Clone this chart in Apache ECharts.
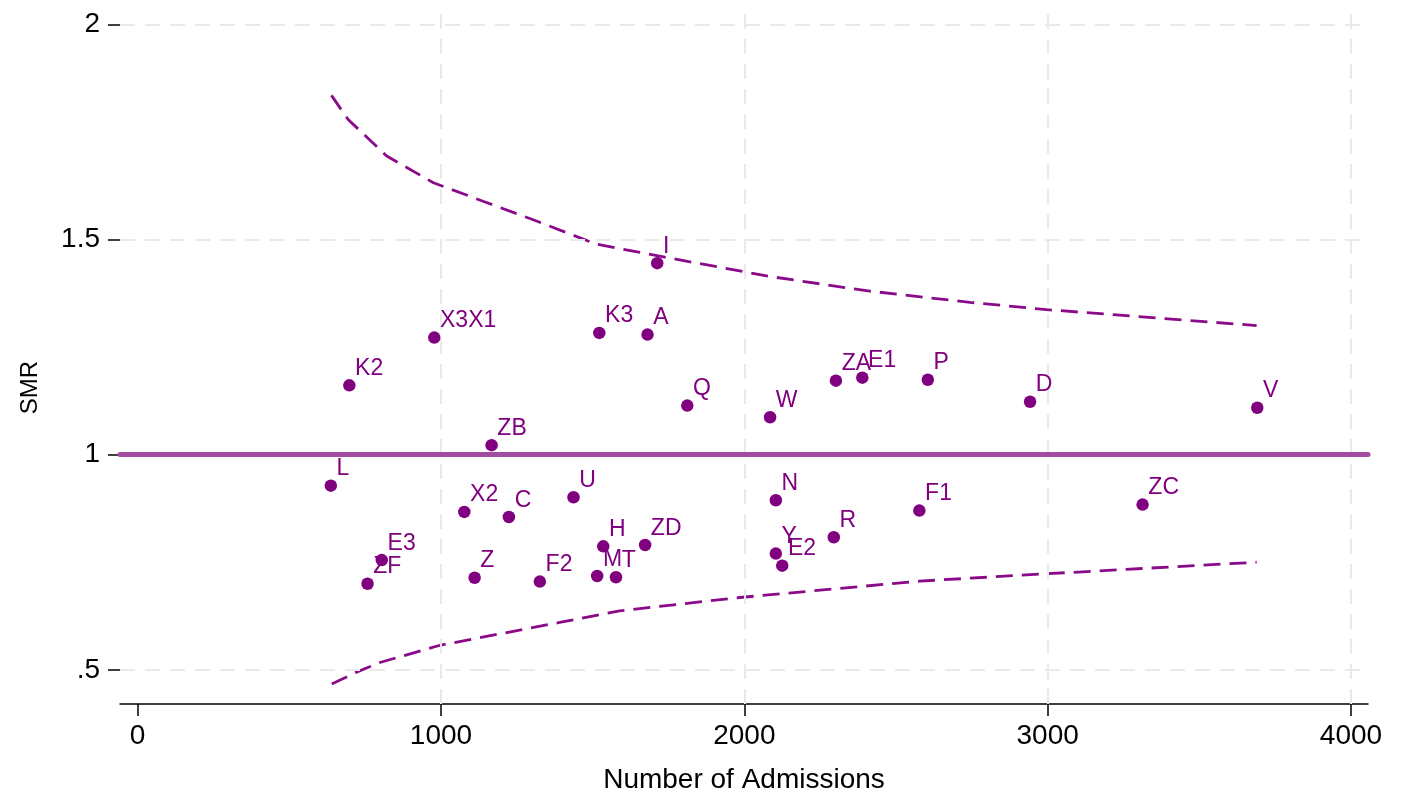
<!DOCTYPE html>
<html>
<head>
<meta charset="utf-8">
<script src="https://cdn.jsdelivr.net/npm/echarts@6/dist/echarts.min.js"></script>
<style>
html,body{margin:0;padding:0;background:#fff;}
#chart{width:1401px;height:799px;}
</style>
</head>
<body>
<div id="chart"></div>
<script>
// Hospitals: names, number of admissions, SMR
const hospitals = ['L','K2','ZF','E3','X3X1','X2','Z','ZB','C','F2','U','M','K3','H','T','ZD','A','I','Q','W','N','Y','E2','R','ZA','E1','F1','P','D','ZC','V'];
const admissions = [637,698,758,805,978,1077,1111,1167,1224,1326,1437,1515,1522,1535,1577,1673,1681,1713,1812,2085,2104,2104,2125,2295,2302,2389,2577,2605,2942,3313,3691];
const smr = [0.928,1.161,0.700,0.755,1.272,0.867,0.714,1.022,0.855,0.705,0.901,0.718,1.283,0.787,0.715,0.790,1.279,1.445,1.114,1.087,0.894,0.770,0.742,0.808,1.172,1.179,0.870,1.174,1.123,0.884,1.109];

// Control limits
const upperX = [639,694,821,975,1150,1315,1513,1738,2085,2414,2744,2997,3689];
const upperY = [1.835,1.779,1.694,1.632,1.586,1.543,1.489,1.459,1.414,1.380,1.354,1.337,1.300];
const lowerX = [640,720,799,997,1391,1589,1985,2577,2992,3689];
const lowerY = [0.467,0.494,0.517,0.557,0.610,0.637,0.668,0.706,0.723,0.750];

const targetSMR = 1;
const xTickValues = [0,1000,2000,3000,4000];
const xTickLabels = ['0','1000','2000','3000','4000'];
const xGridValues = [1000,2000,3000,4000];
const yTickValues = [0.5,1,1.5,2];
const yTickLabels = ['.5','1','1.5','2'];
const yGridValues = [0.5,1.5,2];

const FONT = "'Liberation Sans', Arial, sans-serif";
const PURPLE = '#800080';
const gridLineStyle = {color:'#e9e9e9', width:2, type:[15,10]};

const chart = echarts.init(document.getElementById('chart'), null, {renderer:'canvas'});

const points = hospitals.map((n,i)=>({name:n, value:[admissions[i], smr[i]]}));

chart.setOption({
  animation:false,
  backgroundColor:'#fff',
  grid:{left:120, right:33, top:5, bottom:91, containLabel:false},
  xAxis:{
    type:'value', min:-58, max:4056,
    name:'Number of Admissions', nameLocation:'middle', nameGap:62,
    nameTextStyle:{fontFamily:FONT, fontSize:28, color:'#000'},
    axisLine:{show:true, onZero:false, lineStyle:{color:'#000', width:1.5}},
    axisTick:{show:true, length:12, customValues:xTickValues, lineStyle:{color:'#000', width:1.5}},
    axisLabel:{customValues:xTickValues, margin:18, fontFamily:FONT, fontSize:28, color:'#000',
      formatter:(v)=>{const i=xTickValues.indexOf(v); return i>=0?xTickLabels[i]:'';}},
    splitLine:{show:false}
  },
  yAxis:{
    type:'value', min:0.4205, max:2.045,
    name:'SMR', nameLocation:'middle', nameGap:78, nameRotate:90,
    nameTextStyle:{fontFamily:FONT, fontSize:24, color:'#000', padding:[0,66,0,0]},
    axisLine:{show:false, onZero:false},
    axisTick:{show:true, length:12, customValues:yTickValues, lineStyle:{color:'#000', width:1.5}},
    axisLabel:{customValues:yTickValues, margin:20, fontFamily:FONT, fontSize:28, color:'#000',
      formatter:(v)=>{const i=yTickValues.indexOf(v); return i>=0?yTickLabels[i]:'';}},
    splitLine:{show:false}
  },
  series:[
    {
      type:'line', data:[], silent:true, z:1,
      markLine:{
        silent:true, symbol:'none', animation:false,
        label:{show:false},
        lineStyle:gridLineStyle,
        data: xGridValues.map(v=>({xAxis:v})).concat(yGridValues.map(v=>({yAxis:v})))
      }
    },
    {
      type:'line', data:[], silent:true, z:2,
      markLine:{
        silent:true, symbol:'none', animation:false,
        label:{show:false},
        lineStyle:{color:'#a24ca0', width:5, type:'solid', cap:'round'},
        data:[{yAxis:targetSMR}]
      }
    },
    {
      type:'line', z:3, showSymbol:false, symbol:'none',
      data: upperX.map((x,i)=>[x, upperY[i]]),
      lineStyle:{color:'#8a0a8a', width:2.8, type:[17,9]}
    },
    {
      type:'line', z:3, showSymbol:false, symbol:'none',
      data: lowerX.map((x,i)=>[x, lowerY[i]]),
      lineStyle:{color:'#8a0a8a', width:2.8, type:[17,9]}
    },
    {
      type:'scatter', z:5, symbol:'circle', symbolSize:12.5,
      itemStyle:{color:PURPLE, opacity:1},
      data: points,
      label:{show:true, formatter:'{b}', position:[12,1], align:'left', verticalAlign:'bottom',
        fontFamily:FONT, fontSize:23, color:PURPLE, opacity:1}
    }
  ]
});
</script>
</body>
</html>
